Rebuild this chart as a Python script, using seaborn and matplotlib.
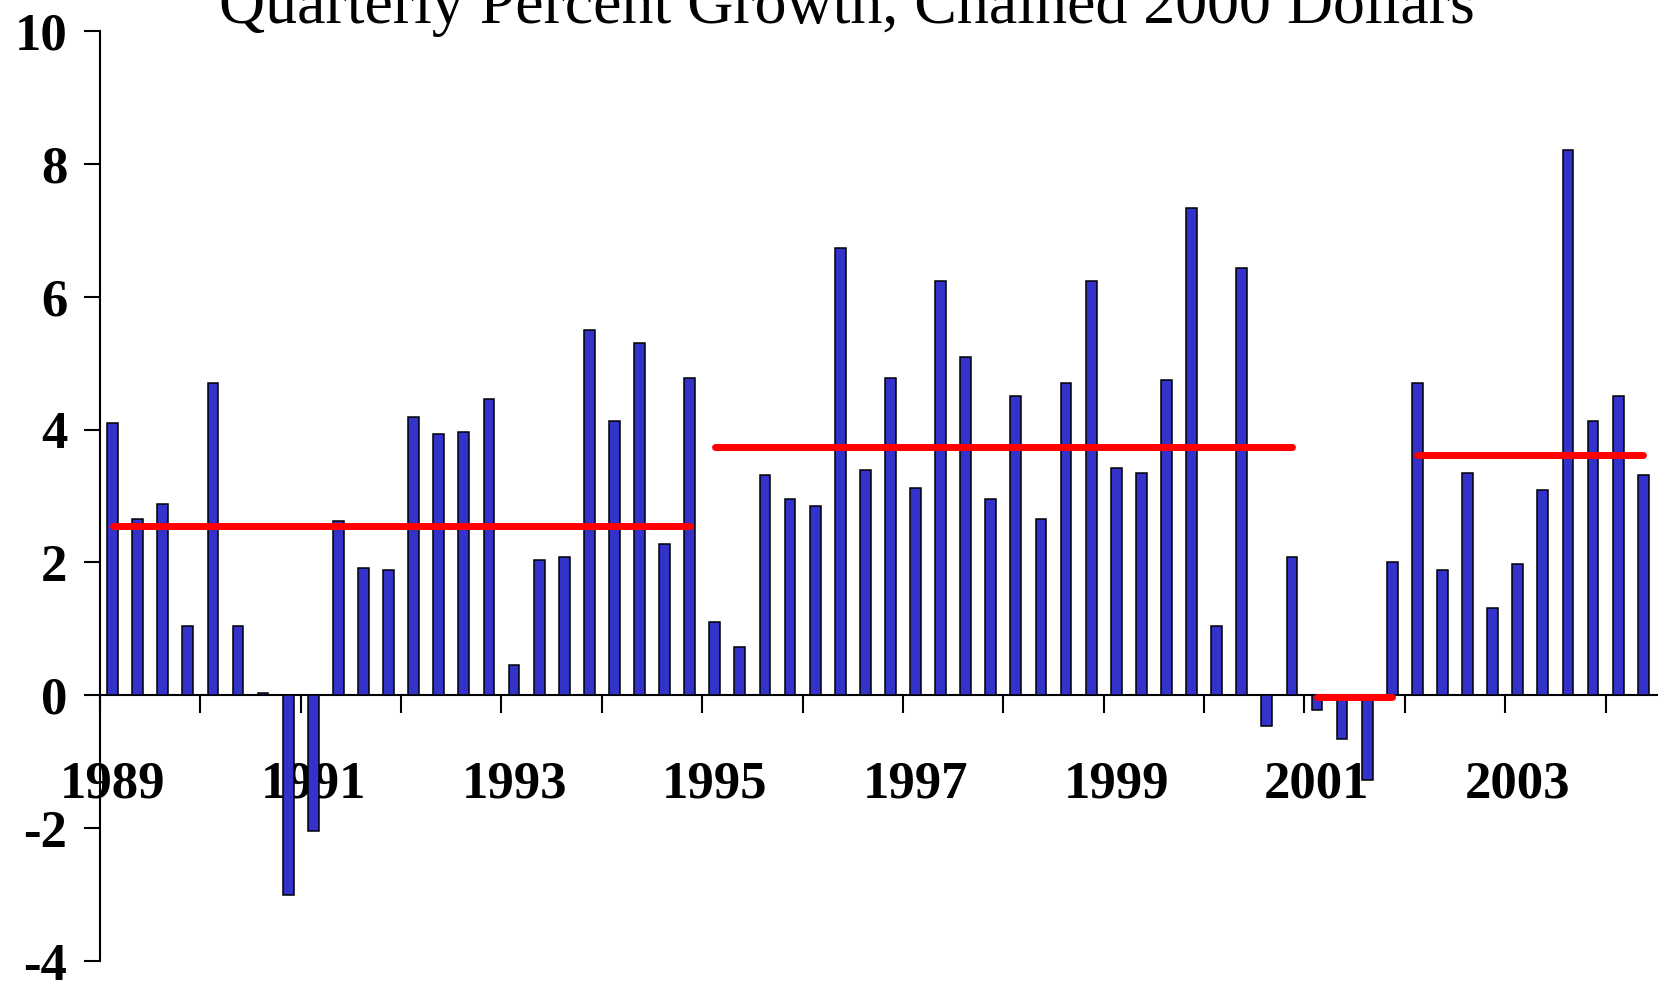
import numpy as np
import pandas as pd
import matplotlib
matplotlib.use("Agg")
import matplotlib.pyplot as plt
import seaborn as sns

# quarterly growth, 1989Q1 .. 2004Q2
quarters = [f"{y}Q{q}" for y in range(1989, 2005) for q in range(1, 5)][:62]
growth = [4.10, 2.66, 2.88, 1.04, 4.70, 1.04, 0.03, -3.00,
          -2.05, 2.62, 1.92, 1.89, 4.19, 3.94, 3.97, 4.46,
          0.45, 2.03, 2.08, 5.50, 4.13, 5.31, 2.27, 4.78,
          1.10, 0.72, 3.31, 2.96, 2.85, 6.74, 3.39, 4.78,
          3.12, 6.24, 5.09, 2.96, 4.51, 2.66, 4.70, 6.24,
          3.42, 3.34, 4.74, 7.33, 1.04, 6.43, -0.46, 2.08,
          -0.22, -0.66, -1.28, 2.00, 4.70, 1.89, 3.34, 1.31,
          1.97, 3.09, 8.21, 4.13, 4.51, 3.31]

# period averages (red lines)
avg_start = ["1989Q1", "1995Q1", "2001Q1", "2002Q1"]
avg_end = ["1994Q4", "2000Q4", "2001Q4", "2004Q2"]
avg_value = [2.55, 3.74, -0.03, 3.62]

label_years = ["1989", "1991", "1993", "1995", "1997", "1999", "2001", "2003"]
y_ticks = [-4, -2, 0, 2, 4, 6, 8, 10]

sns.set_style("white")
plt.rcParams['font.family'] = ['Liberation Serif', 'DejaVu Serif']
plt.rcParams['text.color'] = 'black'
plt.rcParams['xtick.color'] = 'black'
plt.rcParams['ytick.color'] = 'black'

fig = plt.figure(figsize=(16.62, 9.84), dpi=100)
ax = fig.add_axes([100/1662, 1 - 961/984, 1557/1662, (961 - 31)/984])

sns.barplot(x=quarters, y=growth, order=quarters, color="#3333CC", saturation=1,
            width=0.43, edgecolor="black", linewidth=1.1, ax=ax)
for p in ax.patches:
    p.set_zorder(3)

for s, e, v in zip(avg_start, avg_end, avg_value):
    i0 = quarters.index(s)
    i1 = quarters.index(e)
    ax.plot([i0, i1], [v, v], color="#FF0000", lw=5, solid_capstyle="round", zorder=4)

ax.set_xlim(-0.45, 61.55)
ax.set_ylim(-4, 10)

ax.spines['top'].set_visible(False)
ax.spines['right'].set_visible(False)
ax.spines['bottom'].set_position(('data', 0))
for sp in ['left', 'bottom']:
    ax.spines[sp].set_linewidth(1.5)
    ax.spines[sp].set_color("black")

ax.set_xticks([quarters.index(y + "Q1") for y in label_years])
ax.set_xticklabels(label_years, fontsize=38, fontweight="bold", color="black")
ax.set_xticks(np.arange(-0.5, 61, 4), minor=True)
ax.tick_params(axis='x', which='major', bottom=True, length=0, pad=47)
ax.tick_params(axis='x', which='minor', bottom=True, length=13, width=1.5,
               direction='out', color="black")

ax.set_yticks(y_ticks)
ax.set_yticklabels([str(v) for v in y_ticks], fontsize=38, fontweight="bold", color="black")
ax.tick_params(axis='y', left=True, length=11.5, width=1.5, direction='out', pad=12,
               color="black")
ax.set_xlabel("")
ax.set_ylabel("")

fig.text(0.5096, 1 - 23/984, "Quarterly Percent Growth, Chained 2000 Dollars",
         ha="center", va="baseline", fontsize=46, family="Liberation Serif", color="black")

fig.savefig("out.png", dpi=100)
